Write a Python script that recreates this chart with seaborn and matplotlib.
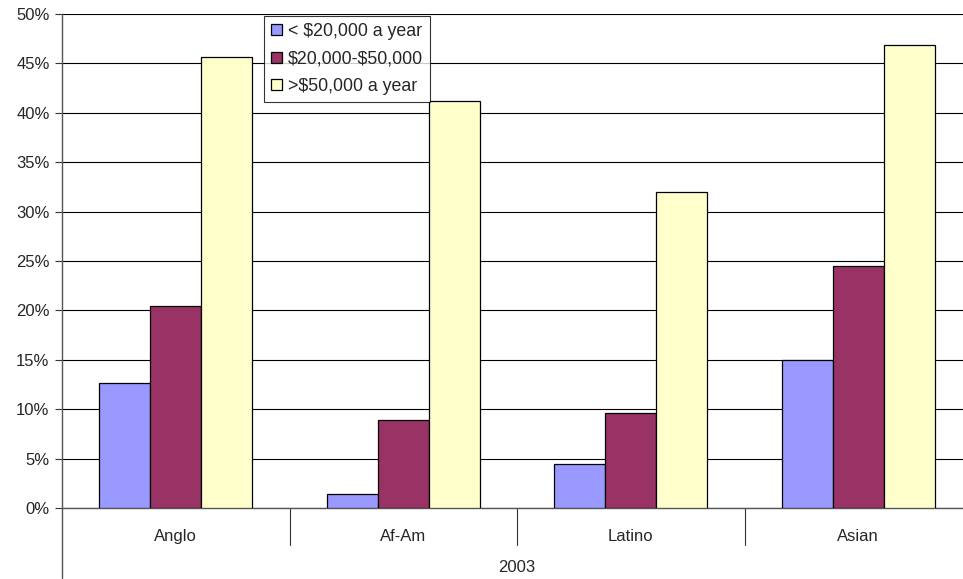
import matplotlib
matplotlib.use("Agg")
import matplotlib.pyplot as plt
import seaborn as sns
import pandas as pd
from matplotlib.ticker import FuncFormatter, MultipleLocator

categories = ["Anglo", "Af-Am", "Latino", "Asian"]
series_names = ["< $20,000 a year", "$20,000-$50,000", ">$50,000 a year"]
low_income = [12.7, 1.4, 4.5, 15.0]
mid_income = [20.4, 8.9, 9.6, 24.5]
high_income = [45.6, 41.2, 32.0, 46.9]
group_label = "2003"
colors = ["#9999FF", "#993366", "#FFFFCC"]

rows = []
for name, vals in zip(series_names, [low_income, mid_income, high_income]):
    for c, v in zip(categories, vals):
        rows.append({"category": c, "series": name, "value": v})
df = pd.DataFrame(rows)

sns.set_style("white")
plt.rcParams["font.family"] = ["Liberation Sans", "DejaVu Sans"]
plt.rcParams["text.parse_math"] = False

FS = 12
W, H = 963, 579
fig = plt.figure(figsize=(W / 100, H / 100), dpi=100)
left_px, right_px, top_px, bottom_px = 62, 972, 14, 508
ax = fig.add_axes([left_px / W, 1 - bottom_px / H, (right_px - left_px) / W, (bottom_px - top_px) / H])

sns.barplot(data=df, x="category", y="value", hue="series", order=categories,
            hue_order=series_names, palette=colors, width=0.672, gap=0,
            edgecolor="black", linewidth=0.9, saturation=1, ax=ax, zorder=3)

ax.set_ylim(0, 50)
ax.set_xlim(-0.5, 3.5)
ax.yaxis.set_major_locator(MultipleLocator(5))
ax.yaxis.set_major_formatter(FuncFormatter(lambda v, p: f"{int(round(v))}%"))
ax.grid(axis="y", color="black", linewidth=0.8, zorder=0)
ax.set_axisbelow(True)
for s in ["top", "right"]:
    ax.spines[s].set_visible(False)
ax.spines["left"].set_color("#555555")
ax.spines["bottom"].set_color("#555555")
ax.spines["left"].set_linewidth(1.0)
ax.spines["bottom"].set_linewidth(1.0)

ax.tick_params(axis="y", which="major", direction="out", length=5, width=0.8,
               color="#333333", labelsize=FS, pad=4, left=True)
ax.tick_params(axis="x", length=0, labelsize=FS, pad=15)
ax.set_xlabel("")
ax.set_ylabel("")

# category separators and extended left axis
plot_h = bottom_px - top_px
sep_depth = -(545 - bottom_px) / plot_h
left_depth = -(578 - bottom_px) / plot_h
trans = ax.get_xaxis_transform()
for xs in [0.5, 1.5, 2.5]:
    ax.plot([xs, xs], [0, sep_depth], transform=trans, color="#333333",
            linewidth=0.8, clip_on=False)
ax.plot([-0.5, -0.5], [0, left_depth], transform=trans, color="#555555",
        linewidth=1.0, clip_on=False)
ax.text(1.5, -(567 - bottom_px) / plot_h, group_label, transform=trans,
        ha="center", va="center", fontsize=FS)

leg = ax.legend(loc="upper left", bbox_to_anchor=((264 - left_px) / (right_px - left_px), (bottom_px - 16) / plot_h),
                borderaxespad=0, frameon=True, fancybox=False, edgecolor="black",
                fontsize=12.8, handlelength=0.6, handleheight=0.6, handletextpad=0.35,
                labelspacing=0.58, borderpad=0.4, title=None)
leg.get_frame().set_linewidth(0.8)
leg.set_zorder(5)

fig.savefig("out.png", dpi=100)
